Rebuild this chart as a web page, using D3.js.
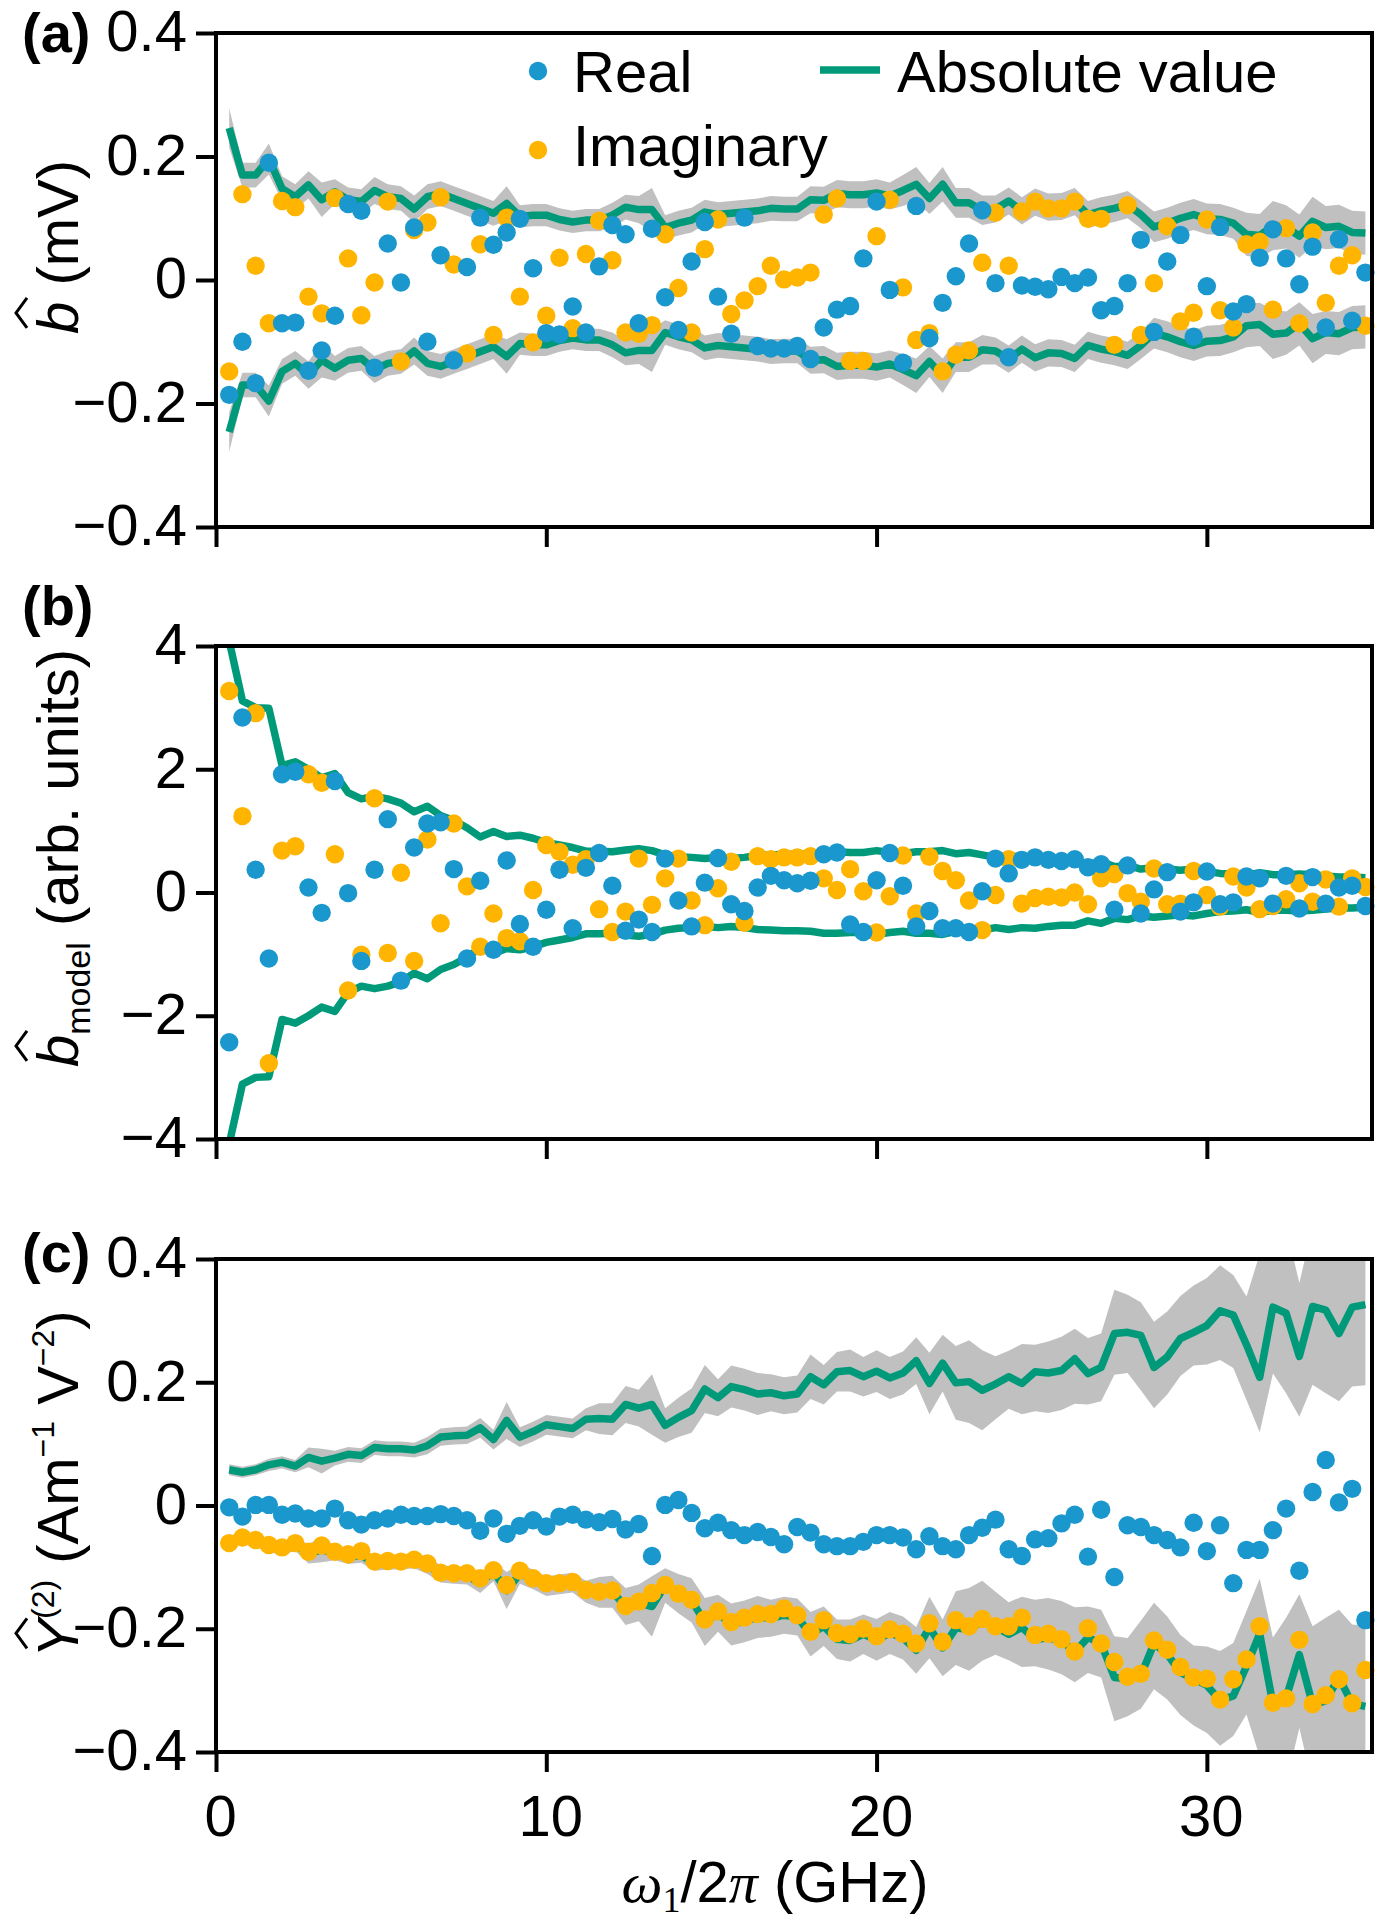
<!DOCTYPE html>
<html><head><meta charset="utf-8">
<script src="https://cdn.jsdelivr.net/npm/d3@7"></script>
<style>body{margin:0;background:#fff}svg{display:block}</style>
</head><body>
<svg id="chart" width="1382" height="1920"></svg>
<script>
// ---------- data ----------
const freq = [0.4,0.8,1.2,1.6,2.0,2.4,2.8,3.2,3.6,4.0,4.4,4.8,5.2,5.6,6.0,6.4,6.8,7.2,7.6,8.0,
8.4,8.8,9.2,9.6,10.0,10.4,10.8,11.2,11.6,12.0,12.4,12.8,13.2,13.6,14.0,14.4,14.8,15.2,15.6,16.0,
16.4,16.8,17.2,17.6,18.0,18.4,18.8,19.2,19.6,20.0,20.4,20.8,21.2,21.6,22.0,22.4,22.8,23.2,23.6,24.0,
24.4,24.8,25.2,25.6,26.0,26.4,26.8,27.2,27.6,28.0,28.4,28.8,29.2,29.6,30.0,30.4,30.8,31.2,31.6,32.0,
32.4,32.8,33.2,33.6,34.0,34.4,34.8];

const aReal = [-0.186,-0.100,-0.167,0.190,-0.070,-0.069,-0.147,-0.114,-0.058,0.123,
0.112,-0.142,0.059,-0.004,0.085,-0.100,0.040,-0.130,0.021,0.101,
0.057,0.077,0.099,0.019,-0.086,-0.088,-0.043,-0.085,0.022,0.089,
0.074,-0.070,0.083,-0.028,-0.081,0.030,0.094,-0.027,-0.087,0.101,
-0.107,-0.111,-0.111,-0.107,-0.128,-0.077,-0.048,-0.042,0.035,0.127,
-0.016,-0.134,0.120,-0.094,-0.037,0.006,0.059,0.113,-0.005,-0.125,
-0.009,-0.011,-0.015,0.005,-0.005,0.004,-0.049,-0.042,-0.005,0.065,
-0.084,0.030,0.073,-0.092,-0.010,0.086,-0.051,-0.039,0.036,0.082,
0.035,-0.007,0.054,-0.077,0.066,-0.066,0.012];
const aImag = [-0.148,0.139,0.023,-0.070,0.128,0.118,-0.027,-0.054,0.133,0.035,
-0.057,-0.004,0.127,-0.132,0.081,0.093,0.134,0.025,-0.119,0.058,
-0.089,0.101,-0.027,-0.101,-0.058,0.036,-0.078,0.042,0.096,0.032,
-0.085,-0.087,-0.073,0.074,-0.013,-0.085,0.050,0.098,-0.055,-0.033,
-0.010,0.023,0.001,0.004,0.012,0.106,0.132,-0.131,-0.131,0.071,
0.130,-0.012,-0.097,-0.086,-0.148,-0.121,-0.114,0.028,0.109,0.023,
0.111,0.127,0.116,0.116,0.127,0.099,0.099,-0.105,0.121,-0.089,
-0.005,0.087,-0.067,-0.053,0.098,-0.049,-0.077,0.058,0.062,-0.048,
0.084,-0.070,0.077,-0.037,0.023,0.040,-0.074];
const aAbs = [0.246,0.170,0.170,0.196,0.148,0.135,0.154,0.130,0.143,0.130,
0.127,0.145,0.135,0.132,0.115,0.135,0.140,0.132,0.124,0.116,
0.108,0.124,0.103,0.105,0.105,0.098,0.094,0.097,0.097,0.105,
0.118,0.114,0.114,0.085,0.092,0.097,0.110,0.106,0.108,0.110,
0.112,0.116,0.115,0.115,0.130,0.129,0.140,0.138,0.138,0.141,
0.136,0.145,0.155,0.132,0.155,0.125,0.125,0.113,0.115,0.128,
0.112,0.126,0.118,0.119,0.127,0.106,0.112,0.116,0.122,0.106,
0.086,0.092,0.100,0.106,0.099,0.098,0.092,0.074,0.072,0.088,
0.086,0.071,0.095,0.085,0.087,0.077,0.076];
const aErr = [0.032,0.02,0.02,0.025,0.02,0.02,0.022,0.028,0.02,0.02,
0.02,0.022,0.02,0.02,0.022,0.02,0.02,0.02,0.02,0.02,
0.02,0.028,0.018,0.018,0.018,0.018,0.018,0.018,0.018,0.02,
0.02,0.022,0.035,0.02,0.02,0.02,0.02,0.02,0.02,0.02,
0.02,0.02,0.02,0.02,0.022,0.022,0.022,0.022,0.022,0.022,
0.022,0.025,0.028,0.025,0.028,0.024,0.024,0.024,0.022,0.022,
0.022,0.022,0.022,0.022,0.022,0.022,0.022,0.022,0.022,0.022,
0.025,0.025,0.025,0.025,0.025,0.025,0.025,0.035,0.035,0.04,
0.035,0.035,0.04,0.035,0.035,0.035,0.035];

const bReal = [-2.43,2.84,0.37,-1.07,1.92,1.96,0.08,-0.33,1.81,-0.01,
-1.11,0.37,1.19,-1.43,0.73,1.12,1.14,0.38,-1.07,0.19,
-0.93,0.52,-0.51,-0.88,-0.28,0.37,-0.58,0.40,0.64,0.11,
-0.62,-0.44,-0.64,0.55,-0.13,-0.55,0.16,0.56,-0.19,-0.30,
0.08,0.27,0.20,0.15,0.19,0.62,0.65,-0.52,-0.64,0.20,
0.64,0.11,-0.55,-0.30,-0.58,-0.58,-0.64,0.02,0.55,0.31,
0.53,0.57,0.53,0.51,0.54,0.41,0.46,-0.28,0.44,-0.34,
0.05,0.33,-0.31,-0.16,0.34,-0.19,-0.16,0.26,0.23,-0.18,
0.27,-0.26,0.25,-0.18,0.08,0.11,-0.22];
const bImag = [3.27,1.24,2.91,-2.77,0.68,0.75,1.92,1.78,0.62,-1.59,
-1.01,1.53,-0.98,0.32,-1.11,0.86,-0.50,1.12,0.10,-0.88,
-0.34,-0.74,-0.79,0.04,0.77,0.66,0.45,0.54,-0.27,-0.64,
-0.31,0.55,-0.20,0.23,0.55,-0.13,-0.53,0.07,0.50,-0.49,
0.59,0.54,0.57,0.57,0.59,0.23,0.04,0.38,0.02,-0.65,
-0.06,0.60,-0.34,0.58,0.35,0.20,-0.13,-0.61,-0.04,0.54,
-0.18,-0.09,-0.07,-0.08,0.00,-0.19,0.23,0.30,-0.01,-0.15,
0.39,-0.19,-0.18,0.35,-0.04,-0.23,0.26,0.08,-0.27,-0.22,
-0.11,0.15,-0.15,0.21,-0.23,0.23,0.09];
const bAbs = [4.08,3.11,3.00,2.99,2.06,2.12,2.00,1.86,1.93,1.62,
1.52,1.56,1.52,1.45,1.31,1.40,1.25,1.17,1.05,0.90,
0.99,0.91,0.93,0.88,0.81,0.77,0.73,0.67,0.67,0.66,
0.69,0.71,0.68,0.61,0.58,0.57,0.55,0.57,0.55,0.57,
0.60,0.61,0.62,0.62,0.63,0.66,0.66,0.65,0.65,0.68,
0.65,0.63,0.66,0.66,0.68,0.63,0.65,0.61,0.57,0.60,
0.57,0.58,0.55,0.53,0.53,0.46,0.50,0.42,0.44,0.38,
0.40,0.38,0.36,0.38,0.34,0.31,0.30,0.28,0.32,0.29,
0.29,0.30,0.29,0.27,0.25,0.25,0.24];

const cReal = [-0.003,-0.018,0.001,0.001,-0.015,-0.013,-0.021,-0.021,-0.005,-0.024,
-0.031,-0.024,-0.021,-0.015,-0.017,-0.017,-0.014,-0.017,-0.024,-0.041,
-0.021,-0.046,-0.033,-0.024,-0.034,-0.018,-0.015,-0.023,-0.027,-0.022,
-0.039,-0.030,-0.082,0.001,0.009,-0.012,-0.037,-0.028,-0.040,-0.048,
-0.043,-0.051,-0.063,-0.035,-0.044,-0.063,-0.066,-0.066,-0.059,-0.048,
-0.048,-0.052,-0.071,-0.050,-0.066,-0.071,-0.048,-0.036,-0.023,-0.071,
-0.082,-0.055,-0.053,-0.029,-0.015,-0.083,-0.007,-0.116,-0.032,-0.035,
-0.048,-0.056,-0.068,-0.028,-0.074,-0.032,-0.126,-0.072,-0.072,-0.040,
-0.005,-0.106,0.022,0.074,0.005,0.027,-0.186];
const cImag = [-0.061,-0.052,-0.056,-0.064,-0.068,-0.061,-0.075,-0.065,-0.075,-0.079,
-0.074,-0.091,-0.090,-0.091,-0.088,-0.094,-0.109,-0.110,-0.110,-0.118,
-0.105,-0.129,-0.106,-0.118,-0.126,-0.126,-0.124,-0.137,-0.140,-0.138,
-0.163,-0.156,-0.142,-0.129,-0.143,-0.153,-0.185,-0.172,-0.189,-0.182,
-0.176,-0.176,-0.167,-0.178,-0.205,-0.186,-0.207,-0.209,-0.200,-0.212,
-0.201,-0.208,-0.224,-0.191,-0.221,-0.186,-0.196,-0.184,-0.196,-0.196,
-0.182,-0.210,-0.208,-0.217,-0.237,-0.199,-0.224,-0.254,-0.278,-0.273,
-0.219,-0.234,-0.262,-0.279,-0.281,-0.315,-0.282,-0.250,-0.196,-0.320,
-0.313,-0.218,-0.322,-0.308,-0.282,-0.321,-0.267];
const cAbs = [0.058,0.054,0.058,0.066,0.070,0.064,0.078,0.072,0.077,0.083,
0.081,0.094,0.092,0.092,0.090,0.097,0.111,0.113,0.114,0.126,
0.107,0.138,0.111,0.120,0.131,0.128,0.125,0.140,0.141,0.140,
0.164,0.158,0.164,0.130,0.143,0.154,0.189,0.175,0.193,0.188,
0.181,0.183,0.178,0.181,0.209,0.196,0.217,0.219,0.209,0.218,
0.207,0.215,0.235,0.198,0.231,0.199,0.201,0.187,0.197,0.209,
0.198,0.217,0.215,0.219,0.238,0.214,0.224,0.279,0.281,0.276,
0.224,0.241,0.271,0.281,0.292,0.316,0.309,0.261,0.208,0.322,
0.312,0.242,0.323,0.317,0.279,0.322,0.326];
const cErrUp = [0.009,0.009,0.009,0.01,0.01,0.01,0.016,0.02,0.012,0.012,
0.012,0.012,0.012,0.012,0.012,0.014,0.014,0.014,0.014,0.016,
0.016,0.03,0.016,0.016,0.016,0.016,0.016,0.018,0.025,0.026,
0.03,0.03,0.049,0.028,0.032,0.036,0.039,0.03,0.034,0.034,
0.034,0.03,0.03,0.03,0.036,0.032,0.032,0.034,0.032,0.034,
0.034,0.035,0.038,0.05,0.046,0.06,0.067,0.065,0.045,0.042,
0.064,0.044,0.051,0.055,0.049,0.058,0.055,0.071,0.061,0.054,
0.074,0.074,0.069,0.076,0.077,0.074,0.065,0.078,0.2,0.13,
0.14,0.119,0.13,0.135,0.13,0.13,0.13];
const cErrDown = [0.009,0.009,0.009,0.01,0.01,0.01,0.016,0.02,0.012,0.012,
0.012,0.012,0.012,0.012,0.012,0.014,0.014,0.014,0.014,0.016,
0.016,0.03,0.016,0.016,0.016,0.016,0.016,0.018,0.025,0.026,
0.03,0.03,0.049,0.028,0.032,0.036,0.039,0.03,0.034,0.034,
0.034,0.03,0.03,0.03,0.036,0.032,0.032,0.034,0.032,0.034,
0.034,0.035,0.038,0.05,0.046,0.06,0.067,0.065,0.057,0.052,
0.05,0.064,0.065,0.064,0.073,0.05,0.055,0.067,0.066,0.089,
0.066,0.061,0.061,0.054,0.063,0.08,0.086,0.09,0.089,0.108,
0.13,0.098,0.127,0.135,0.11,0.129,0.131];

const aTicks = [-0.4,-0.2,0,0.2,0.4];
const aTickLabels = ["\u22120.4","\u22120.2","0","0.2","0.4"];
const bTicks = [-4,-2,0,2,4];
const bTickLabels = ["\u22124","\u22122","0","2","4"];
const cTicks = [-0.4,-0.2,0,0.2,0.4];
const cTickLabels = ["\u22120.4","\u22120.2","0","0.2","0.4"];
const xTicks = [0,10,20,30];
const xTickLabels = ["0","10","20","30"];
const legendLabels = ["Real","Imaginary","Absolute value"];

// ---------- styles ----------
const BLUE="#1a97cc", ORANGE="#ffb400", GREEN="#009a7a", GRAY="#c0c0c0";
const FONT="'Liberation Sans', Arial, Helvetica, sans-serif";
const SERIF="'Liberation Serif', 'Times New Roman', serif";
const FS=58, R=9.2, LW=7.5;

const svg=d3.select("#chart");
svg.append("rect").attr("width",1382).attr("height",1920).attr("fill","#fff");
const x=d3.scaleLinear().domain([0,35]).range([216,1372]);

const panels=[
 {id:"a",top:33,bottom:527,dom:[-0.4,0.4],ticks:aTicks,labels:aTickLabels,re:aReal,im:aImag,abs:aAbs,up:aErr,dn:aErr,xlab:false,label:"(a)",ly:52},
 {id:"b",top:646,bottom:1139,dom:[-4,4],ticks:bTicks,labels:bTickLabels,re:bReal,im:bImag,abs:bAbs,up:null,dn:null,xlab:false,label:"(b)",ly:625},
 {id:"c",top:1259,bottom:1752,dom:[-0.4,0.4],ticks:cTicks,labels:cTickLabels,re:cReal,im:cImag,abs:cAbs,up:cErrUp,dn:cErrDown,xlab:true,label:"(c)",ly:1272}
];

const defs=svg.append("defs");
panels.forEach(p=>{
  const y=d3.scaleLinear().domain(p.dom).range([p.bottom,p.top]);
  const cid="clip-"+p.id;
  defs.append("clipPath").attr("id",cid).append("rect")
    .attr("x",216).attr("y",p.top).attr("width",1156).attr("height",p.bottom-p.top);
  const g=svg.append("g").attr("clip-path",`url(#${cid})`);
  if(p.up){
    const areaU=d3.area().x((d,i)=>x(freq[i])).y0((d,i)=>y(d-p.dn[i])).y1((d,i)=>y(d+p.up[i]));
    const areaL=d3.area().x((d,i)=>x(freq[i])).y0((d,i)=>y(-(d-p.dn[i]))).y1((d,i)=>y(-(d+p.up[i])));
    g.append("path").datum(p.abs).attr("d",areaU).attr("fill",GRAY);
    g.append("path").datum(p.abs).attr("d",areaL).attr("fill",GRAY);
  }
  const lineU=d3.line().x((d,i)=>x(freq[i])).y(d=>y(d));
  const lineL=d3.line().x((d,i)=>x(freq[i])).y(d=>y(-d));
  [lineU,lineL].forEach(l=>{
    g.append("path").datum(p.abs).attr("d",l).attr("fill","none")
     .attr("stroke",GREEN).attr("stroke-width",LW).attr("stroke-linejoin","round");
  });
  const gd=svg.append("g");
  gd.selectAll(null).data(p.im).join("circle")
    .attr("cx",(d,i)=>x(freq[i])).attr("cy",d=>y(d)).attr("r",R).attr("fill",ORANGE);
  gd.selectAll(null).data(p.re).join("circle")
    .attr("cx",(d,i)=>x(freq[i])).attr("cy",d=>y(d)).attr("r",R).attr("fill",BLUE);

  // frame
  svg.append("rect").attr("x",216).attr("y",p.top).attr("width",1156).attr("height",p.bottom-p.top)
    .attr("fill","none").attr("stroke","#000").attr("stroke-width",4);

  // y axis
  const gy=svg.append("g").attr("transform","translate(216,0)")
    .call(d3.axisLeft(y).tickValues(p.ticks).tickFormat((d,i)=>p.labels[i]).tickSize(20).tickPadding(9).tickSizeOuter(0));
  gy.attr("font-size",FS).attr("font-family",FONT);
  gy.select(".domain").remove();
  gy.selectAll("line").attr("stroke","#000").attr("stroke-width",4);
  gy.selectAll("text").attr("fill","#000").attr("dy","0.31em");

  // x axis
  const gx=svg.append("g").attr("transform",`translate(0,${p.bottom})`)
    .call(d3.axisBottom(x).tickValues(xTicks).tickFormat(p.xlab?((d,i)=>xTickLabels[i]):()=>"").tickSize(20).tickPadding(23).tickSizeOuter(0));
  gx.attr("font-size",FS).attr("font-family",FONT);
  gx.select(".domain").remove();
  gx.selectAll("line").attr("stroke","#000").attr("stroke-width",4);
  gx.selectAll("text").attr("fill","#000").attr("dx",4);

  // panel label
  svg.append("text").attr("x",22).attr("y",p.ly).attr("font-family",FONT).attr("font-weight","bold")
    .attr("font-size",56).attr("fill","#000").text(p.label);
});

// ---------- y titles ----------
function yTitle(cy,build){
  const g=svg.append("g").attr("transform",`translate(78,${cy}) rotate(-90)`);
  const t=g.append("text").attr("text-anchor","middle").attr("font-size",FS).attr("font-family",FONT).attr("fill","#000");
  build(t);
  const e=t.node().getExtentOfChar(0);
  const cx=e.x+e.width/2+5;
  g.append("path").attr("d",`M${cx-15},-51 L${cx},-62 L${cx+15},-51`)
    .attr("fill","none").attr("stroke","#000").attr("stroke-width",3);
}
yTitle(247,t=>{
  t.append("tspan").attr("font-style","italic").text("b");
  t.append("tspan").text(" (mV)");
});
yTitle(858,t=>{
  t.append("tspan").attr("font-style","italic").text("b");
  t.append("tspan").attr("font-size",34).attr("dy",12).text("model");
  t.append("tspan").attr("dy",-12).text(" (arb. units)");
});
yTitle(1484,t=>{
  t.append("tspan").attr("font-style","italic").text("Y");
  t.append("tspan").attr("font-size",32).attr("dy",-24).text("(2)");
  t.append("tspan").attr("dy",24).text(" (Am");
  t.append("tspan").attr("font-size",32).attr("dy",-24).text("\u22121");
  t.append("tspan").attr("dy",24).text(" V");
  t.append("tspan").attr("font-size",32).attr("dy",-24).text("\u22122");
  t.append("tspan").attr("dy",24).text(")");
});

// ---------- x title ----------
const xt=svg.append("text").attr("x",775).attr("y",1902).attr("text-anchor","middle")
  .attr("font-size",FS).attr("font-family",FONT).attr("fill","#000");
xt.append("tspan").attr("font-family",SERIF).attr("font-style","italic").text("\u03c9");
xt.append("tspan").attr("font-family",SERIF).attr("font-size",36).attr("dy",10).text("1");
xt.append("tspan").attr("dy",-10).text("/2");
xt.append("tspan").attr("font-family",SERIF).attr("font-style","italic").text("\u03c0");
xt.append("tspan").text(" (GHz)");

// ---------- legend ----------
const lg=svg.append("g").attr("font-family",FONT).attr("font-size",FS).attr("fill","#000");
lg.append("circle").attr("cx",538).attr("cy",71).attr("r",R).attr("fill",BLUE);
lg.append("text").attr("x",573).attr("y",92).text(legendLabels[0]);
lg.append("circle").attr("cx",538).attr("cy",150).attr("r",R).attr("fill",ORANGE);
lg.append("text").attr("x",573).attr("y",166).text(legendLabels[1]);
lg.append("line").attr("x1",820).attr("x2",880).attr("y1",70).attr("y2",70).attr("stroke",GREEN).attr("stroke-width",LW);
lg.append("text").attr("x",897).attr("y",92).text(legendLabels[2]);
</script>
</body></html>
